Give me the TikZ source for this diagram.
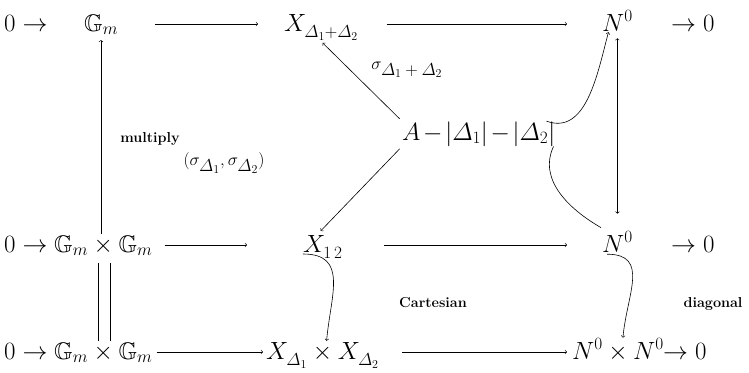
\documentclass[tikz,border=0pt]{standalone}
\usepackage{amsmath,amssymb}
\newcommand{\lowsub}[1]{\lower3pt\hbox{$\scriptstyle #1$}}
\begin{document}
\begin{tikzpicture}[x=1pt,y=-1pt,
  every node/.style={inner sep=1pt, anchor=base west},
  big/.style={font=\fontsize{24}{28}\selectfont},
  lab/.style={font=\fontsize{17}{20}\selectfont, anchor=center},
  word/.style={font=\fontsize{14.4}{17}\selectfont\bfseries, anchor=center},
  arr/.style={->, line width=0.6pt},
  ln/.style={line width=0.6pt}]
\useasboundingbox (0,0) rectangle (749,372);
% row 1
\node[big] (z1) at (3,31) {$0\rightarrow$};
\node[big] (g1) at (83,31) {$\mathbb{G}_m$};
\node[big] (x1) at (283,31) {$X_{\lowsub{\varDelta_1+\varDelta_2}}$};
\node[big] (n1) at (601,31) {$N^0$};
\node[big] (e1) at (670,31) {$\rightarrow 0$};
% row 2
\node[big] (z2) at (3,252) {$0\rightarrow$};
\node[big] (g2) at (53,252) {$\mathbb{G}_m\times\mathbb{G}_m$};
\node[big] (x2) at (302,252) {$X_{\lowsub{1\,2}}$};
\node[big] (n2) at (601,252) {$N^0$};
\node[big] (e2) at (670,252) {$\rightarrow 0$};
% row 3
\node[big] (z3) at (3,359) {$0\rightarrow$};
\node[big] (g3) at (53,359) {$\mathbb{G}_m\times\mathbb{G}_m$};
\node[big] (x3) at (265,359) {$X_{\lowsub{\varDelta_1}}\times X_{\lowsub{\varDelta_2}}$};
\node[big] (n3) at (571,359) {$N^0\times N^0$};
\node[big] (e3) at (662,359) {$\rightarrow 0$};
% middle
\node[big] (a) at (401,140) {$A\mkern-2mu-\mkern-2mu|\varDelta_1|\mkern-2mu-\mkern-2mu|\varDelta_2|$};
% labels
\node[lab] (ls) at (407,70) {$\sigma_{\textstyle\varDelta_1+\varDelta_2}$};
\node[word] (lm) at (150,139) {multiply};
\node[lab] (lp) at (224,163) {$(\sigma_{\textstyle\varDelta_1},\sigma_{\textstyle\varDelta_2})$};
\node[word] (lc) at (433,303) {Cartesian};
\node[word] (ld) at (713,304) {diagonal};
% horizontal arrows
\draw[arr, shorten <=36pt, shorten >=25pt] ([yshift=7pt]g1.base east) -- ([yshift=7pt]g1.base east -| x1.west);
\draw[arr, shorten <=27pt, shorten >=34pt] ([yshift=7pt]x1.base east) -- ([yshift=7pt]x1.base east -| n1.west);
\draw[arr, shorten <=11pt, shorten >=55pt] ([yshift=7pt]g2.base east) -- ([yshift=7pt]g2.base east -| x2.west);
\draw[arr, shorten <=40pt, shorten >=34pt] ([yshift=7pt]x2.base east) -- ([yshift=7pt]x2.base east -| n2.west);
\draw[arr, shorten <=3pt, shorten >=2pt] ([yshift=7pt]g3.base east) -- ([yshift=7pt]g3.base east -| x3.west);
\draw[arr, shorten <=22pt, shorten >=4pt] ([yshift=7pt]x3.base east) -- ([yshift=7pt]x3.base east -| n3.west);
% verticals
\draw[arr, shorten >=4pt] ([xshift=48pt]g2.north west) -- ([xshift=48pt]g2.north west |- g1.south);
\draw[ln, shorten <=6pt] ([xshift=45pt]g2.south west) -- ([xshift=45pt]g2.south west |- g3.north);
\draw[ln, shorten <=6pt] ([xshift=57pt]g2.south west) -- ([xshift=57pt]g2.south west |- g3.north);
\draw[<->, line width=0.6pt, shorten <=6pt, shorten >=17pt] (n1.south) -- (n2.north);
% diagonals
\draw[arr, shorten <=2pt, shorten >=2pt] (a.north west) -- (x1.south);
\draw[arr, shorten <=2pt, shorten >=4pt] (a.south west) -- ([xshift=-5pt]x2.north);
% curves
\draw[arr] ([xshift=-10pt,yshift=-1pt]a.north east) to[out=-20, in=-105] ([xshift=-9pt]n1.south);
\draw[ln] ([xshift=-3pt,yshift=1pt]a.south east) to[out=-115, in=150] ([yshift=3pt]n2.north west);
\draw[arr] ([xshift=1pt,yshift=-2pt]x2.base west) to[out=0, in=85, looseness=1.3] ([xshift=4pt]x3.north);
\draw[arr] ([xshift=6pt,yshift=-1pt]n2.south west) to[out=0, in=85, looseness=1.3] ([xshift=5pt]n3.north);
\end{tikzpicture}
\end{document}
